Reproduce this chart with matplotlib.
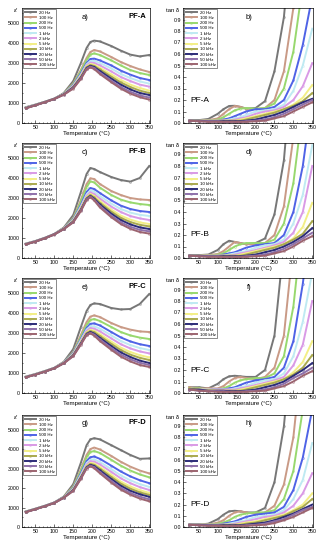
import matplotlib
matplotlib.use('Agg')
import matplotlib.pyplot as plt
from matplotlib.ticker import AutoMinorLocator, MultipleLocator

plt.rcParams['font.family'] = ['Liberation Sans', 'DejaVu Sans']

freqs = ['20 Hz', '100 Hz', '200 Hz', '500 Hz', '1 kHz', '2 kHz', '5 kHz', '10 kHz', '20 kHz', '50 kHz', '100 kHz']
colors = ['#777777', '#c99a86', '#98d86e', '#4f63e6', '#bfeaf2', '#d99ae6', '#f3ef86', '#a9a94e', '#2c2c78', '#8e70aa', '#9c6470']

# temperature grids (deg C)
T_eps = [25, 50, 75, 100, 125, 150, 170, 185, 195, 205, 220, 250, 275, 300, 325, 350]
T_tan = [25, 50, 75, 100, 115, 130, 145, 160, 175, 200, 225, 250, 275, 300, 325, 350]

# permittivity, one row per frequency
eps_A = [
    [790, 920, 1060, 1200, 1500, 2100, 3000, 3750, 4050, 4120, 4080, 3850, 3620, 3420, 3330, 3400],
    [770, 910, 1060, 1220, 1480, 1980, 2650, 3250, 3550, 3650, 3580, 3300, 3050, 2850, 2680, 2550],
    [770, 905, 1060, 1220, 1470, 1950, 2580, 3150, 3420, 3480, 3400, 3130, 2880, 2650, 2500, 2400],
    [760, 900, 1055, 1220, 1460, 1900, 2480, 3000, 3200, 3220, 3130, 2880, 2620, 2420, 2250, 2150],
    [760, 900, 1050, 1215, 1450, 1870, 2420, 2930, 3100, 3100, 3000, 2730, 2450, 2250, 2080, 1970],
    [755, 895, 1050, 1215, 1445, 1850, 2380, 2880, 3020, 3000, 2880, 2580, 2300, 2100, 1920, 1820],
    [750, 895, 1045, 1210, 1440, 1820, 2340, 2830, 2950, 2910, 2760, 2430, 2150, 1920, 1750, 1620],
    [750, 890, 1045, 1210, 1435, 1800, 2300, 2790, 2900, 2850, 2680, 2320, 2030, 1800, 1620, 1500],
    [745, 890, 1040, 1205, 1430, 1780, 2270, 2750, 2860, 2800, 2600, 2220, 1920, 1680, 1500, 1400],
    [740, 885, 1040, 1200, 1420, 1750, 2230, 2710, 2820, 2750, 2520, 2120, 1800, 1560, 1380, 1270],
    [735, 880, 1035, 1200, 1415, 1720, 2200, 2680, 2780, 2700, 2450, 2040, 1720, 1470, 1290, 1170],
]
eps_B = [
    [720, 850, 1010, 1200, 1520, 2150, 3300, 4200, 4500, 4450, 4300, 4050, 3900, 3820, 4000, 4600],
    [710, 840, 1005, 1200, 1500, 2000, 2900, 3700, 3980, 3950, 3700, 3350, 3150, 3000, 2930, 2900],
    [705, 835, 1000, 1195, 1490, 1970, 2800, 3550, 3830, 3780, 3520, 3150, 2920, 2780, 2700, 2650],
    [700, 835, 1000, 1195, 1480, 1930, 2650, 3300, 3500, 3450, 3250, 2880, 2620, 2450, 2350, 2300],
    [700, 830, 995, 1190, 1475, 1900, 2580, 3180, 3380, 3320, 3100, 2720, 2450, 2270, 2160, 2100],
    [695, 830, 995, 1190, 1470, 1880, 2530, 3100, 3280, 3200, 2970, 2570, 2300, 2100, 1980, 1900],
    [695, 825, 990, 1185, 1465, 1860, 2480, 3040, 3200, 3100, 2850, 2420, 2120, 1920, 1780, 1700],
    [690, 825, 990, 1185, 1460, 1840, 2440, 3000, 3150, 3030, 2760, 2320, 2010, 1800, 1660, 1580],
    [690, 820, 985, 1180, 1455, 1820, 2410, 2960, 3100, 2970, 2680, 2220, 1900, 1680, 1530, 1450],
    [685, 820, 985, 1180, 1450, 1800, 2380, 2930, 3070, 2920, 2600, 2120, 1790, 1560, 1410, 1330],
    [680, 815, 980, 1175, 1445, 1780, 2350, 2900, 3040, 2880, 2530, 2040, 1700, 1460, 1300, 1220],
]
eps_C = [
    [820, 950, 1100, 1260, 1560, 2200, 3300, 4100, 4400, 4480, 4450, 4250, 4180, 4200, 4450, 4950],
    [810, 940, 1090, 1255, 1540, 2050, 2900, 3550, 3820, 3880, 3800, 3500, 3300, 3170, 3080, 3050],
    [805, 935, 1085, 1250, 1530, 2020, 2800, 3400, 3650, 3700, 3600, 3300, 3050, 2880, 2770, 2700],
    [800, 930, 1080, 1250, 1520, 1990, 2700, 3250, 3460, 3480, 3380, 3050, 2780, 2580, 2440, 2350],
    [800, 930, 1080, 1245, 1515, 1960, 2650, 3170, 3340, 3330, 3220, 2880, 2600, 2400, 2250, 2150],
    [795, 925, 1075, 1245, 1510, 1940, 2600, 3100, 3250, 3220, 3080, 2730, 2440, 2230, 2080, 1980],
    [795, 925, 1075, 1240, 1505, 1920, 2550, 3030, 3160, 3110, 2940, 2570, 2270, 2050, 1890, 1780],
    [790, 920, 1070, 1240, 1500, 1900, 2510, 2990, 3100, 3040, 2850, 2460, 2150, 1920, 1760, 1650],
    [790, 920, 1070, 1235, 1495, 1880, 2480, 2950, 3050, 2970, 2760, 2350, 2030, 1800, 1620, 1500],
    [785, 915, 1065, 1235, 1490, 1860, 2450, 2920, 3010, 2920, 2680, 2250, 1920, 1690, 1510, 1400],
    [780, 915, 1065, 1230, 1485, 1840, 2420, 2890, 2980, 2870, 2600, 2160, 1820, 1580, 1400, 1300],
]
eps_D = [
    [800, 940, 1090, 1260, 1560, 2200, 3300, 4200, 4500, 4560, 4500, 4200, 3950, 3700, 3500, 3520],
    [790, 935, 1085, 1255, 1545, 2080, 2950, 3700, 4000, 4080, 3980, 3650, 3350, 3100, 2900, 2750],
    [785, 930, 1080, 1250, 1540, 2050, 2870, 3580, 3850, 3900, 3800, 3450, 3150, 2900, 2700, 2550],
    [780, 925, 1080, 1250, 1535, 2000, 2750, 3380, 3580, 3620, 3500, 3150, 2850, 2600, 2400, 2250],
    [780, 925, 1075, 1245, 1530, 1970, 2680, 3280, 3450, 3470, 3340, 2970, 2650, 2400, 2200, 2060],
    [775, 920, 1075, 1245, 1525, 1950, 2630, 3200, 3370, 3360, 3210, 2830, 2500, 2250, 2050, 1900],
    [775, 920, 1070, 1240, 1520, 1930, 2590, 3140, 3290, 3260, 3080, 2680, 2330, 2080, 1890, 1750],
    [770, 915, 1070, 1240, 1515, 1910, 2560, 3100, 3240, 3190, 3000, 2570, 2230, 1970, 1780, 1650],
    [770, 915, 1065, 1235, 1510, 1890, 2530, 3060, 3190, 3130, 2910, 2470, 2120, 1860, 1680, 1550],
    [765, 910, 1065, 1235, 1505, 1870, 2500, 3030, 3150, 3070, 2830, 2370, 2010, 1750, 1560, 1420],
    [760, 910, 1060, 1230, 1500, 1850, 2470, 3000, 3120, 3020, 2760, 2280, 1920, 1660, 1460, 1320],
]

# loss tangent, one row per frequency (values above 1 run off the top of the plot)
tan_A = [
    [.02, .025, .035, .08, .12, .148, .15, .14, .125, .13, .19, .45, .92, 1.8, 3.0, 4.0],
    [.02, .02, .025, .04, .08, .12, .148, .14, .125, .12, .13, .2, .45, 1.0, 2.0, 3.0],
    [.02, .02, .02, .03, .05, .08, .11, .125, .13, .125, .13, .17, .3, .62, 1.2, 2.0],
    [.02, .02, .02, .02, .03, .04, .06, .08, .1, .12, .12, .14, .2, .37, .68, 1.1],
    [.02, .02, .02, .02, .02, .03, .04, .05, .07, .1, .11, .12, .16, .28, .5, .82],
    [.02, .02, .02, .02, .02, .02, .03, .04, .05, .08, .1, .11, .14, .2, .32, .52],
    [.02, .02, .02, .02, .02, .02, .02, .03, .04, .06, .08, .1, .12, .16, .22, .33],
    [.02, .02, .02, .02, .02, .02, .02, .02, .03, .05, .07, .09, .12, .15, .19, .26],
    [.02, .02, .015, .015, .015, .015, .015, .015, .02, .03, .05, .07, .1, .14, .18, .21],
    [.02, .015, .015, .015, .01, .01, .01, .01, .015, .02, .03, .05, .08, .12, .16, .2],
    [.02, .015, .01, .01, .01, .01, .01, .01, .01, .015, .02, .04, .06, .1, .14, .18],
]
tan_B = [
    [.02, .025, .03, .07, .12, .15, .14, .13, .12, .13, .17, .38, .85, 1.8, 3.0, 4.0],
    [.02, .02, .025, .035, .06, .1, .14, .13, .12, .12, .13, .2, .45, 1.05, 2.0, 3.0],
    [.02, .02, .02, .03, .04, .07, .1, .12, .13, .13, .13, .16, .3, .65, 1.3, 2.0],
    [.02, .02, .02, .02, .03, .04, .05, .07, .09, .11, .12, .13, .2, .4, .8, 1.4],
    [.02, .02, .02, .02, .02, .03, .04, .05, .06, .09, .11, .12, .16, .3, .55, .98],
    [.02, .02, .02, .02, .02, .02, .03, .04, .05, .07, .09, .11, .14, .22, .4, .8],
    [.02, .02, .02, .02, .02, .02, .02, .03, .04, .06, .08, .1, .12, .17, .27, .48],
    [.02, .02, .02, .02, .02, .02, .02, .02, .03, .05, .07, .09, .12, .16, .21, .32],
    [.02, .02, .015, .015, .015, .015, .015, .015, .02, .03, .05, .07, .1, .14, .19, .26],
    [.02, .015, .015, .015, .01, .01, .01, .01, .015, .02, .03, .05, .08, .12, .17, .22],
    [.02, .015, .01, .01, .01, .01, .01, .01, .01, .015, .02, .04, .06, .1, .15, .19],
]
tan_C = [
    [.05, .05, .04, .08, .12, .145, .15, .145, .14, .14, .2, .5, 1.3, 2.5, 3.5, 4.5],
    [.05, .04, .04, .04, .06, .1, .13, .14, .13, .12, .14, .22, .5, 1.3, 2.5, 3.5],
    [.04, .04, .03, .03, .04, .06, .09, .11, .12, .13, .13, .17, .32, .75, 1.5, 2.5],
    [.04, .03, .03, .03, .03, .04, .05, .07, .09, .11, .12, .14, .22, .45, .95, 1.6],
    [.04, .03, .03, .03, .03, .03, .04, .05, .06, .09, .11, .12, .17, .32, .62, 1.05],
    [.04, .03, .03, .03, .03, .03, .03, .04, .05, .07, .09, .11, .14, .24, .42, .8],
    [.04, .03, .03, .02, .02, .02, .02, .03, .04, .06, .08, .1, .12, .18, .27, .45],
    [.04, .03, .02, .02, .02, .02, .02, .02, .03, .05, .07, .09, .12, .16, .22, .33],
    [.03, .03, .02, .02, .02, .015, .015, .015, .02, .03, .05, .07, .1, .15, .2, .26],
    [.03, .02, .02, .015, .015, .01, .01, .01, .015, .02, .03, .05, .08, .13, .17, .22],
    [.03, .02, .015, .01, .01, .01, .01, .01, .01, .015, .02, .04, .06, .1, .15, .19],
]
tan_D = [
    [.02, .02, .03, .07, .11, .14, .145, .14, .13, .13, .17, .4, .9, 1.8, 3.0, 4.0],
    [.02, .02, .02, .04, .06, .1, .13, .14, .13, .12, .13, .19, .38, .8, 1.6, 2.5],
    [.02, .02, .02, .03, .04, .06, .09, .11, .12, .13, .13, .15, .25, .5, 1.05, 1.8],
    [.02, .02, .02, .02, .03, .04, .05, .07, .09, .11, .12, .13, .18, .33, .62, 1.05],
    [.02, .02, .02, .02, .02, .03, .04, .05, .06, .09, .1, .11, .15, .25, .42, .75],
    [.02, .02, .02, .02, .02, .02, .03, .04, .05, .07, .09, .1, .13, .19, .3, .48],
    [.02, .02, .02, .02, .02, .02, .02, .03, .04, .05, .07, .09, .11, .15, .2, .3],
    [.02, .02, .02, .02, .02, .02, .02, .02, .03, .04, .06, .08, .1, .14, .18, .25],
    [.02, .02, .015, .015, .015, .015, .015, .015, .02, .03, .04, .06, .09, .12, .16, .2],
    [.02, .015, .015, .015, .01, .01, .01, .01, .015, .02, .03, .05, .07, .11, .15, .18],
    [.02, .015, .01, .01, .01, .01, .01, .01, .01, .015, .02, .035, .06, .09, .13, .17],
]

samples = ['PF-A', 'PF-B', 'PF-C', 'PF-D']
eps_all = [eps_A, eps_B, eps_C, eps_D]
tan_all = [tan_A, tan_B, tan_C, tan_D]
letters = ['a)', 'b)', 'c)', 'd)', 'e)', 'f)', 'g)', 'h)']

fig = plt.figure(figsize=(3.21, 5.5), dpi=100)

# rows: (top px, bottom px) of each panel
rows = [(8, 123), (143, 258), (278, 393), (415, 527)]
W, H = 321.0, 550.0


def style_axis(ax):
    ax.tick_params(which='both', direction='in', labelsize=3.8, pad=1.5, width=0.4)
    ax.tick_params(which='major', length=2)
    ax.tick_params(which='minor', length=1)
    ax.xaxis.set_minor_locator(AutoMinorLocator(5))
    ax.yaxis.set_minor_locator(AutoMinorLocator(2))
    for s in ax.spines.values():
        s.set_linewidth(0.5)
    ax.set_xlabel('Temperature (°C)', fontsize=4.4, labelpad=1)


def add_legend(ax):
    leg = ax.legend(loc='upper left', fontsize=3.2, handlelength=2.6, labelspacing=0.25,
                    borderpad=0.3, handletextpad=0.6, borderaxespad=0.3, frameon=True,
                    fancybox=False)
    leg.get_frame().set_edgecolor('black')
    leg.get_frame().set_linewidth(0.4)


for i in range(4):
    top, bot = rows[i]
    # left: permittivity
    ax = fig.add_axes([22 / W, 1 - bot / H, 128 / W, (bot - top) / H])
    for j in range(len(freqs)):
        ax.plot(T_eps, eps_all[i][j], color=colors[j], lw=1.4, label=freqs[j],
                marker='o', ms=1.4, mfc='none', mew=0.3)
    ax.set_xlim(15, 352)
    ax.set_ylim(0, 5750)
    ax.xaxis.set_major_locator(MultipleLocator(50))
    ax.yaxis.set_major_locator(MultipleLocator(1000))
    style_axis(ax)
    add_legend(ax)
    ax.text(-0.03, 1.0, "ε'", transform=ax.transAxes, ha='right', va='top', fontsize=4.5, style='italic')
    ax.text(0.49, 0.92, letters[2 * i], transform=ax.transAxes, ha='center', va='center', fontsize=5.5)
    ax.text(0.97, 0.93, samples[i], transform=ax.transAxes, ha='right', va='center', fontsize=5.5, fontweight='bold')

    # right: loss tangent
    ax = fig.add_axes([183 / W, 1 - bot / H, 130 / W, (bot - top) / H])
    for j in range(len(freqs)):
        ax.plot(T_tan, tan_all[i][j], color=colors[j], lw=1.4, label=freqs[j],
                marker='o', ms=1.4, mfc='none', mew=0.3)
    ax.set_xlim(8, 352)
    ax.set_ylim(0, 1.0)
    ax.xaxis.set_major_locator(MultipleLocator(50))
    ax.set_yticks([0, .1, .2, .3, .4, .5, .6, .7, .8, .9])
    ax.set_yticklabels(['0.0', '0.1', '0.2', '0.3', '0.4', '0.5', '0.6', '0.7', '0.8', '0.9'])
    style_axis(ax)
    add_legend(ax)
    ax.text(-0.03, 1.0, 'tan δ', transform=ax.transAxes, ha='right', va='top', fontsize=4.2)
    ax.text(0.51, 0.92, letters[2 * i + 1], transform=ax.transAxes, ha='center', va='center', fontsize=5.5)
    ax.text(0.06, 0.2, samples[i], transform=ax.transAxes, ha='left', va='center', fontsize=6)

fig.savefig('out.png', dpi=100)
